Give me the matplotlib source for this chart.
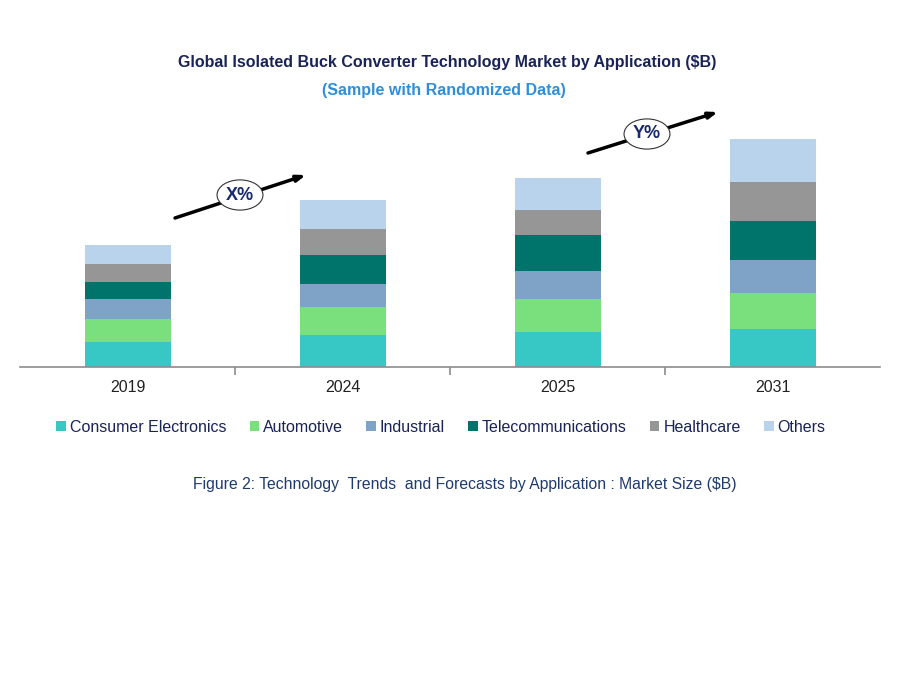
import numpy as np
import matplotlib.pyplot as plt

plt.rcParams['font.family'] = ['Liberation Sans', 'DejaVu Sans']

# market size by application ($B)
years = ['2019', '2024', '2025', '2031']
consumer = [2.5, 3.2, 3.5, 3.8]
automotive = [2.3, 2.8, 3.3, 3.6]
industrial = [2.0, 2.3, 2.8, 3.3]
telecom = [1.7, 2.9, 3.6, 3.9]
healthcare = [1.8, 2.6, 2.5, 3.9]
others = [1.9, 2.9, 3.2, 4.3]

series = [('Consumer Electronics', consumer, '#37C7C5'),
          ('Automotive', automotive, '#7AE07E'),
          ('Industrial', industrial, '#7EA3C7'),
          ('Telecommunications', telecom, '#00736A'),
          ('Healthcare', healthcare, '#969696'),
          ('Others', others, '#BAD3EC')]

W, H = 899, 673
fig = plt.figure(figsize=(W / 100, H / 100), dpi=100)
ax = fig.add_axes([20 / W, (H - 367) / H, 860 / W, 267 / H])

x = np.arange(len(years))
bottom = np.zeros(len(years))
for name, vals, col in series:
    ax.bar(x, vals, width=0.4, bottom=bottom, color=col, label=name)
    bottom += np.array(vals)

ax.set_xlim(-0.5, 3.5)
ax.set_ylim(0, 26.7)
for s in ['top', 'right', 'left']:
    ax.spines[s].set_visible(False)
ax.spines['bottom'].set_color('#8c8c8c')
ax.spines['bottom'].set_linewidth(1.2)
ax.set_yticks([])
ax.set_xticks(x)
ax.set_xticklabels(years, fontsize=11.5, color='#222222')
ax.tick_params(axis='x', which='major', length=0, pad=9)
ax.set_xticks([0.5, 1.5, 2.5], minor=True)
ax.tick_params(axis='x', which='minor', length=6, color='#8c8c8c', width=1.2)

fig.text(0.497, 1 - 62 / H, 'Global Isolated Buck Converter Technology Market by Application ($B)',
         ha='center', va='center', fontsize=11.5, fontweight='bold', color='#1a2358')
fig.text(0.494, 1 - 90 / H, '(Sample with Randomized Data)',
         ha='center', va='center', fontsize=11.5, fontweight='bold', color='#2e8fd8')

# growth arrows
for (x0, y0, x1, y1), (lx, ly), lab in [((175, 218, 306, 175), (240, 195), 'X%'),
                                          ((588, 153, 718, 112), (647, 134), 'Y%')]:
    ax.annotate('', xy=(x1 / W, 1 - y1 / H), xytext=(x0 / W, 1 - y0 / H),
                xycoords='figure fraction', textcoords='figure fraction',
                arrowprops=dict(arrowstyle='-|>,head_length=0.5,head_width=0.18',
                                color='black', lw=2.5, shrinkA=0, shrinkB=0))
    fig.text(lx / W, 1 - ly / H, lab, ha='center', va='center', fontsize=13,
             fontweight='bold', color='#1a2a70',
             bbox=dict(boxstyle='ellipse,pad=0.12', fc='white', ec='#333333', lw=0.8))

leg = fig.legend(loc='center', bbox_to_anchor=(0.4905, 1 - 427 / H), ncol=6, frameon=False,
                 fontsize=11.5, handlelength=0.6, handleheight=0.6, handletextpad=0.25,
                 columnspacing=1.45)
for t in leg.get_texts():
    t.set_color('#1a2358')

fig.text(465 / W, 1 - 484 / H, 'Figure 2: Technology  Trends  and Forecasts by Application : Market Size ($B)',
         ha='center', va='center', fontsize=11.3, color='#1f3a6e')

fig.savefig('out.png', dpi=100)
